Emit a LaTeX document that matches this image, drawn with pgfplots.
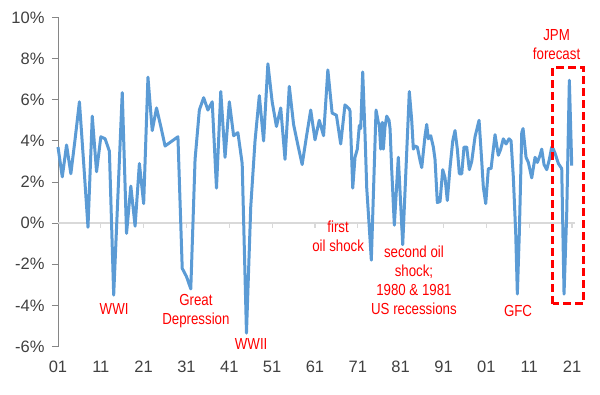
\documentclass[border=0pt]{standalone}
\usepackage{pgfplots}
\pgfplotsset{compat=1.18}
\usepackage{fontspec}
\setmainfont{Liberation Sans}
\newfontfamily\annfont[FakeStretch=0.83]{Liberation Sans}
\definecolor{lineblue}{HTML}{5B9BD5}
\definecolor{tickgray}{HTML}{404040}
\definecolor{axisgray}{HTML}{868686}
\definecolor{zerogray}{HTML}{D9D9D9}
\definecolor{annred}{HTML}{FF0000}
\begin{document}
\begin{tikzpicture}
\begin{axis}[
  scale only axis, width=517pt, height=329pt,
  xmin=1901, xmax=2021.7, ymin=-6, ymax=10,
  axis lines*=left,
  x axis line style={draw=none},
  y axis line style={draw=axisgray, line width=0.9pt, -},
  xtick={1901,1911,1921,1931,1941,1951,1961,1971,1981,1991,2001,2011,2021},
  xticklabels={01,11,21,31,41,51,61,71,81,91,01,11,21},
  ytick={-6,-4,-2,0,2,4,6,8,10},
  yticklabels={-6\%,-4\%,-2\%,0\%,2\%,4\%,6\%,8\%,10\%},
  tick align=outside,
  major tick length=6pt,
  major x tick style={draw=none},
  major y tick style={draw=axisgray, line width=0.9pt},
  tick label style={font=\fontsize{16.5}{18}\selectfont, text=tickgray},
  yticklabel style={xshift=-4pt},
  xticklabel style={yshift=-5pt},
  clip=false,
]
\coordinate (sw) at (rel axis cs:0,0);
\draw[zerogray, line width=1.5pt] (axis cs:1901,0) -- (axis cs:2021.7,0);
\pgfplotsinvokeforeach{1911,1921,1931,1941,1951,1961,1971,1981,1991,2001,2011,2021}{
  \draw[zerogray, line width=1.2pt] (axis cs:#1,0) -- ([yshift=-5pt]axis cs:#1,0);
}
\addplot[lineblue, line width=3pt, line join=round, mark=none] coordinates {
(1901,3.7)(1902,2.25)(1903,3.8)(1904,2.4)(1905,4.1)(1906,5.9)(1907,2.9)(1908,-0.2)
(1909,5.2)(1910,2.5)(1911,4.2)(1912,4.1)(1913,3.5)(1914,-3.5)(1915,1.4)(1916,6.35)
(1917,-0.5)(1918,1.8)(1919,-0.15)(1920,2.9)(1921,0.95)(1922,7.1)(1923,4.5)(1924,5.6)
(1925,4.7)(1926,3.75)(1927,3.9)(1928,4.05)(1929,4.2)(1930,-2.2)(1931,-2.6)(1932,-3.2)
(1933,3.1)(1934,5.5)(1935,6.1)(1936,5.5)(1937,5.9)(1938,1.7)(1939,6.4)(1940,3.2)
(1941,5.9)(1942,4.25)(1943,4.4)(1944,2.9)(1945,-5.35)(1946,0.8)(1947,4.0)(1948,6.2)
(1949,4.0)(1950,7.75)(1951,5.9)(1952,4.7)(1953,5.6)(1954,3.1)(1955,6.65)(1956,4.8)
(1957,3.8)(1958,2.85)(1959,4.2)(1960,5.5)(1961,4.05)(1962,5.0)(1963,4.25)(1964,7.45)
(1965,5.35)(1966,5.25)(1967,3.85)(1968,5.75)(1969,5.55)
(1969.18,5.45)(1969.81,1.7)(1970.34,3.2)(1970.88,3.6)(1971.35,4.75)(1971.67,4.6)
(1972.14,7.35)(1972.68,4.3)(1973.08,1.7)(1973.61,0.0)(1974.15,-1.8)(1975.25,5.5)
(1975.78,4.9)(1976.02,4.8)(1976.34,3.6)(1976.72,4.9)(1976.95,3.6)(1977.35,4.7)
(1977.75,5.2)(1978.28,5.0)(1978.52,4.6)(1978.91,2.6)(1979.52,-0.1)(1980.45,3.2)
(1981.48,-1.05)(1983.02,6.4)(1983.58,5.0)(1983.96,3.6)(1984.35,3.75)(1984.89,3.7)
(1985.52,3.05)(1985.92,2.7)(1986.69,4.25)(1987.08,4.8)(1987.46,4.1)(1988.02,4.25)
(1988.63,3.7)(1989.02,3.1)(1989.56,1.0)(1990.19,1.05)(1990.82,2.6)(1991.36,2.2)
(1991.89,1.1)(1992.52,2.7)(1993.16,4.0)(1993.69,4.5)(1994.23,3.6)(1994.70,2.4)
(1995.26,2.4)(1995.79,3.7)(1996.42,3.7)(1997.03,2.6)(1997.59,3.0)(1998.36,4.2)
(1999.30,5.0)(1999.93,3.0)(2000.30,1.75)(2000.86,0.95)(2001.47,2.65)(2002.10,2.65)
(2003.03,4.3)(2003.80,3.3)(2004.36,3.6)(2004.97,4.1)(2005.60,3.85)(2006.30,4.1)
(2006.77,4.0)(2007.30,2.25)(2007.86,-0.5)(2008.24,-3.45)(2008.70,-0.5)(2009.27,4.4)
(2009.57,4.6)(2010.27,3.2)(2010.81,2.95)(2011.60,2.2)(2012.37,3.2)(2012.91,2.95)
(2013.54,3.3)(2013.93,3.6)(2014.47,2.85)(2015.10,2.6)(2015.71,3.1)(2016.27,3.7)
(2016.64,3.6)(2017.04,3.4)(2017.81,2.9)(2018.60,2.65)(2019.14,-3.45)(2019.77,0.5)
(2020.38,6.95)(2020.94,2.8)
};
\draw[annred, line width=2.5pt, dash pattern=on 8pt off 4pt]
  (axis cs:2016.5,-3.92) rectangle (axis cs:2023.65,7.58);
\tikzset{ann/.style={text=annred, font=\annfont\fontsize{16}{19}\selectfont, align=center, inner sep=0pt}}
\node[ann] at (axis cs:1914.1,-4.16) {WWI};
\node[ann] at (axis cs:1933.2,-4.28) {Great\\Depression};
\node[ann] at (axis cs:1946.1,-5.86) {WWII};
\node[ann] at (axis cs:1966.4,-0.66) {first\\oil shock};
\node[ann] at (axis cs:1984.1,-2.77) {second oil\\shock;\\1980 \& 1981\\US recessions};
\node[ann] at (axis cs:2008.4,-4.26) {GFC};
\node[ann] at (axis cs:2017.4,8.68) {JPM\\forecast};
\end{axis}
\path (sw) ++(-58pt,-47.5pt) rectangle ++(600pt,394pt);
\end{tikzpicture}
\end{document}
